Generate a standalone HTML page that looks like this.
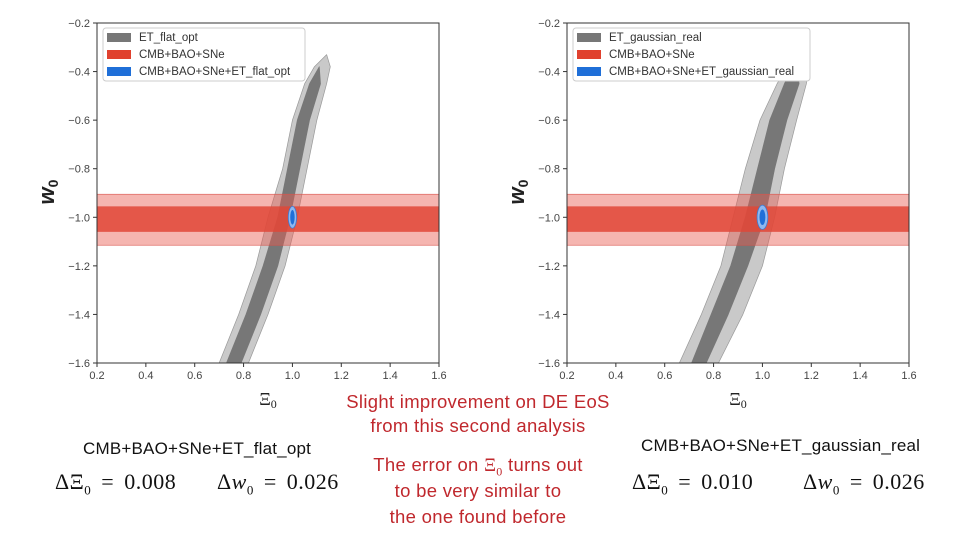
<!DOCTYPE html>
<html><head><meta charset="utf-8"><style>
body{margin:0;background:#fff;width:960px;height:540px;overflow:hidden;position:relative;font-family:"Liberation Sans",sans-serif}
.t{position:absolute;white-space:nowrap}
.red{color:#c0282d;font-size:18.5px;text-align:center;width:340px;letter-spacing:0.3px}
.cap{font-size:17px;color:#111;letter-spacing:0.2px}
.eq{font-family:"Liberation Serif",serif;font-size:22px;color:#111;word-spacing:4px;letter-spacing:0.5px}
</style></head><body>
<svg id="svg" width="960" height="540" style="position:absolute;left:0;top:0"></svg>
<div class="t red" style="left:308px;top:391px">Slight improvement on DE EoS</div>
<div class="t red" style="left:308px;top:415px">from this second analysis</div>
<div class="t red" style="left:308px;top:454px">The error on <span style="font-family:'Liberation Serif',serif">Ξ<sub style="font-size:12px">0</sub></span> turns out</div>
<div class="t red" style="left:308px;top:480px">to be very similar to</div>
<div class="t red" style="left:308px;top:506px">the one found before</div>
<div class="t cap" style="left:83px;top:439px">CMB+BAO+SNe+ET_flat_opt</div>
<div class="t cap" style="left:641px;top:436px">CMB+BAO+SNe+ET_gaussian_real</div>
<div class="t eq" style="left:55px;top:469px">ΔΞ<sub style="font-size:13px">0</sub> = 0.008</div>
<div class="t eq" style="left:217px;top:469px">Δ<i>w</i><sub style="font-size:13px">0</sub> = 0.026</div>
<div class="t eq" style="left:632px;top:469px">ΔΞ<sub style="font-size:13px">0</sub> = 0.010</div>
<div class="t eq" style="left:803px;top:469px">Δ<i>w</i><sub style="font-size:13px">0</sub> = 0.026</div>
<script>
const xTicks=[0.2,0.4,0.6,0.8,1.0,1.2,1.4,1.6];
const yTicks=[-0.2,-0.4,-0.6,-0.8,-1.0,-1.2,-1.4,-1.6];
const bandOuter=[-1.115,-0.905];
const bandInner=[-1.06,-0.955];
// contour edges: w, left x, right x
const leftOuterW=[-1.6,-1.4,-1.2,-1.0,-0.8,-0.6,-0.45,-0.38];
const leftOuterL=[0.70,0.78,0.85,0.90,0.96,1.00,1.05,1.09];
const leftOuterR=[0.82,0.90,0.97,1.02,1.06,1.10,1.14,1.155];
const leftOuterTop=[1.14,-0.33];
const leftInnerW=[-1.6,-1.4,-1.2,-1.0,-0.8,-0.6,-0.45];
const leftInnerL=[0.73,0.81,0.88,0.94,0.98,1.02,1.07];
const leftInnerR=[0.79,0.87,0.94,0.99,1.03,1.07,1.115];
const leftInnerTop=[1.11,-0.38];
const rightOuterW=[-1.6,-1.4,-1.2,-1.0,-0.8,-0.6,-0.45,-0.35];
const rightOuterL=[0.66,0.75,0.83,0.88,0.93,0.99,1.06,1.12];
const rightOuterR=[0.82,0.92,1.00,1.05,1.09,1.14,1.18,1.195];
const rightOuterTop=[1.17,-0.29];
const rightInnerW=[-1.6,-1.4,-1.2,-1.0,-0.8,-0.6,-0.45];
const rightInnerL=[0.71,0.79,0.87,0.93,0.98,1.03,1.09];
const rightInnerR=[0.77,0.86,0.94,1.01,1.05,1.10,1.15];
const rightInnerTop=[1.14,-0.35];
const leftBlob=[1.0,-1.0,0.017,0.045,0.009,0.03];
const rightBlob=[1.0,-1.0,0.022,0.05,0.012,0.032];
const svg=document.getElementById('svg');
const NS='http://www.w3.org/2000/svg';
function mk(tag,attrs,parent){const e=document.createElementNS(NS,tag);for(const k in attrs)e.setAttribute(k,attrs[k]);(parent||svg).appendChild(e);return e;}
function panel(x0,legendLabels,oW,oL,oR,oTop,iW,iL,iR,iTop,blob,side){
  const x1=x0+342,y0=23,y1=363;
  const sx=v=>x0+(v-0.2)/1.4*(x1-x0);
  const sy=v=>y0+(-0.2-v)/1.4*(y1-y0);
  const g=mk('g',{});
  
  
  const clip=mk('clipPath',{id:'c'+side},g);mk('rect',{x:x0,y:y0,width:x1-x0,height:y1-y0},clip);
  const pg=mk('g',{'clip-path':'url(#c'+side+')'},g);
  function contour(W,L,R,top,fill,stroke,name){
    let pts=[];
    for(let i=0;i<W.length;i++)pts.push(sx(L[i])+','+sy(W[i]));
    pts.push(sx(top[0])+','+sy(top[1]));
    for(let i=W.length-1;i>=0;i--)pts.push(sx(R[i])+','+sy(W[i]));
    pts.push(sx(R[0])+','+sy(W[0]-0.3),sx(L[0])+','+sy(W[0]-0.3));
    const p=mk('polygon',{points:pts.join(' '),fill:fill,stroke:stroke,'stroke-width':0.7,'stroke-linejoin':'round'},pg);
    
    
  }
  contour(oW,oL,oR,oTop,'#c9c9c9','#999','et-contour-2sigma');
  contour(iW,iL,iR,iTop,'#777777','#777','et-contour-1sigma');
  const b1=mk('rect',{x:x0,y:sy(bandOuter[1]),width:x1-x0,height:sy(bandOuter[0])-sy(bandOuter[1]),fill:'rgba(232,90,80,0.45)',stroke:'#d9534a','stroke-width':0.6},pg);
  
  
  const b2=mk('rect',{x:x0,y:sy(bandInner[1]),width:x1-x0,height:sy(bandInner[0])-sy(bandInner[1]),fill:'rgba(225,70,55,0.85)'},pg);
  
  
  const e1=mk('ellipse',{cx:sx(blob[0]),cy:sy(blob[1]),rx:sx(blob[0]+blob[2])-sx(blob[0]),ry:sy(blob[1])-sy(blob[1]+blob[3]),fill:'#8fb8ef',stroke:'#3a7bd5','stroke-width':0.8},pg);
  
  
  const e2=mk('ellipse',{cx:sx(blob[0]),cy:sy(blob[1]),rx:sx(blob[0]+blob[4])-sx(blob[0]),ry:sy(blob[1])-sy(blob[1]+blob[5]),fill:'#1f6fd8'},pg);
  
  
  mk('rect',{x:x0,y:y0,width:x1-x0,height:y1-y0,fill:'none',stroke:'#333','stroke-width':1},g);
  xTicks.forEach(v=>{mk('line',{x1:sx(v),x2:sx(v),y1:y1,y2:y1+4,stroke:'#333'},g);
    const t=mk('text',{x:sx(v),y:y1+16,'text-anchor':'middle','font-size':11,fill:'#444'},g);t.textContent=v.toFixed(1);
    });
  yTicks.forEach(v=>{mk('line',{x1:x0-4,x2:x0,y1:sy(v),y2:sy(v),stroke:'#333'},g);
    const t=mk('text',{x:x0-7,y:sy(v)+4,'text-anchor':'end','font-size':11,fill:'#444'},g);t.textContent='\u2212'+Math.abs(v).toFixed(1);
    });
  const xl=mk('text',{x:(x0+x1)/2,y:405,'text-anchor':'middle','font-size':18,'font-family':'Liberation Serif',fill:'#222'},g);
  xl.innerHTML='Ξ<tspan font-size="12" dy="3">0</tspan>';
  
  const yl=mk('text',{x:0,y:0,transform:'translate('+(x0-43)+',192) rotate(-90)','text-anchor':'middle','font-size':22,'font-weight':'bold','font-style':'italic',fill:'#222'},g);
  yl.innerHTML='w<tspan font-size="14" dy="4" font-style="normal">0</tspan>';
  
  const lw=side==='left'?202:237;
  const lg=mk('g',{},g);
  
  mk('rect',{x:x0+6,y:28,width:lw,height:53,fill:'#fff',stroke:'#ccc',rx:3},lg);
  const cols=['#777777','#e0412e','#1f6fd8'];
  legendLabels.forEach((s,i)=>{mk('rect',{x:x0+10,y:33+i*17,width:24,height:9,fill:cols[i]},lg);
    const t=mk('text',{x:x0+42,y:41+i*17,'font-size':11.5,fill:'#333'},lg);t.textContent=s;
    });
}
panel(97,['ET_flat_opt','CMB+BAO+SNe','CMB+BAO+SNe+ET_flat_opt'],leftOuterW,leftOuterL,leftOuterR,leftOuterTop,leftInnerW,leftInnerL,leftInnerR,leftInnerTop,leftBlob,'left');
panel(567,['ET_gaussian_real','CMB+BAO+SNe','CMB+BAO+SNe+ET_gaussian_real'],rightOuterW,rightOuterL,rightOuterR,rightOuterTop,rightInnerW,rightInnerL,rightInnerR,rightInnerTop,rightBlob,'right');
</script>
</body></html>
